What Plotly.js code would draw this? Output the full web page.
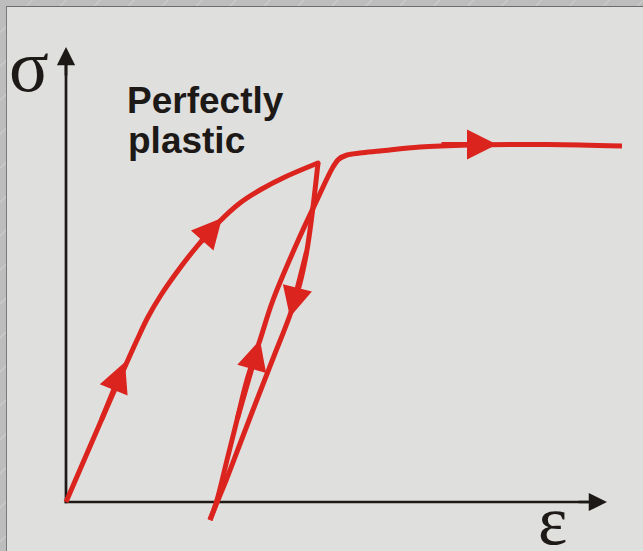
<!DOCTYPE html>
<html>
<head>
<meta charset="utf-8">
<script src="https://cdn.plot.ly/plotly-3.0.1.min.js"></script>
<style>
  html, body { margin: 0; padding: 0; }
  #frame {
    position: relative; width: 643px; height: 551px; overflow: hidden;
    background: repeating-linear-gradient(135deg, #bdbdbd 0px, #bdbdbd 22px, #cfcfcf 23px, #bdbdbd 24px);
  }
  #inner {
    position: absolute; left: 6px; top: 6px; right: 0; bottom: 0;
    background: #dfdfdd; border-top: 1.5px solid #6c6c6c; border-left: 1.5px solid #7a7a7a;
  }
  #chart { position: absolute; left: 0; top: 0; width: 643px; height: 551px; }
</style>
</head>
<body>
<div id="frame"><div id="inner"></div><div id="chart"></div></div>
<script>
// Loading branch (strain, stress) — arbitrary units
const loadStrain = [0, 0.70, 1.42, 1.64, 1.90, 2.22, 2.56, 3.06, 3.48, 3.88, 4.38, 5.04];
const loadStress = [0, 1.62, 3.24, 3.70, 4.14, 4.60, 5.04, 5.60, 5.98, 6.24, 6.50, 6.78];
// Unloading branch
const unloadStrain = [5.04, 4.94, 4.82, 4.68, 4.48, 4.16, 3.84, 3.54, 3.22, 3.04, 2.88];
const unloadStress = [6.78, 5.90, 5.04, 4.38, 3.74, 2.92, 2.10, 1.32, 0.48, 0.04, -0.36];
// Reloading branch into perfectly plastic plateau
const reloadStrain = [2.88, 3.02, 3.22, 3.42, 3.62, 3.88, 4.14, 4.62, 5.02, 5.34, 5.46, 5.62, 5.88, 6.28, 7.08, 8.08, 9.08, 10.28, 11.12];
const reloadStress = [-0.36, 0.04, 0.84, 1.64, 2.44, 3.24, 4.04, 5.18, 6.04, 6.70, 6.86, 6.94, 6.98, 7.02, 7.10, 7.14, 7.15, 7.14, 7.12];
// Direction arrows on the curve (tip and a point behind it)
const arrowTipX  = [1.18, 3.12, 4.48, 3.88, 8.62];
const arrowTipY  = [2.80, 5.68, 3.70, 3.24, 7.15];
const arrowTailX = [0.70, 2.68, 4.82, 3.42, 7.48];
const arrowTailY = [1.62, 5.18, 5.04, 1.64, 7.15];
// Axis extents
const axisXMax = 10.82;
const axisYMax = 9.10;
// Labels
const yLabel = 'σ';
const xLabel = 'ε';
const noteLines = ['Perfectly', 'plastic'];

const RED = '#dc241f';
const INK = '#1c1917';

const lineStyle = {color: RED, width: 5, shape: 'spline', smoothing: 1};
const traces = [
  {x: loadStrain, y: loadStress, mode: 'lines', line: lineStyle, hoverinfo: 'skip'},
  {x: unloadStrain, y: unloadStress, mode: 'lines', line: lineStyle, hoverinfo: 'skip'},
  {x: reloadStrain, y: reloadStress, mode: 'lines', line: lineStyle, hoverinfo: 'skip'},
  {x: [loadStrain[loadStrain.length-1]], y: [loadStress[loadStress.length-1]], mode: 'markers',
   marker: {color: RED, size: 5}, hoverinfo: 'skip'}
];

const annotations = [];
for (let i = 0; i < arrowTipX.length; i++) {
  annotations.push({
    x: arrowTipX[i], y: arrowTipY[i], xref: 'x', yref: 'y',
    ax: arrowTailX[i], ay: arrowTailY[i], axref: 'x', ayref: 'y',
    text: '', showarrow: true, arrowhead: 2, arrowsize: 1.2, arrowwidth: 5,
    arrowcolor: RED, standoff: 0, startstandoff: 0
  });
}
// axis arrowheads
annotations.push({x: 0, y: axisYMax, ax: 0, ay: axisYMax - 0.6, xref: 'x', yref: 'y', axref: 'x', ayref: 'y',
  text: '', showarrow: true, arrowhead: 2, arrowsize: 1.35, arrowwidth: 2.7, arrowcolor: INK, standoff: 0});
annotations.push({x: axisXMax, y: 0, ax: axisXMax - 0.6, ay: 0, xref: 'x', yref: 'y', axref: 'x', ayref: 'y',
  text: '', showarrow: true, arrowhead: 2, arrowsize: 1.35, arrowwidth: 2.7, arrowcolor: INK, standoff: 0});
// text
annotations.push({x: 1.17, y: 8.04, xref: 'x', yref: 'y', xanchor: 'left', yanchor: 'middle', showarrow: false,
  text: noteLines[0], font: {family: 'Liberation Sans, Arial, sans-serif', size: 37, color: INK, weight: 'bold'}});
annotations.push({x: 1.20, y: 7.23, xref: 'x', yref: 'y', xanchor: 'left', yanchor: 'middle', showarrow: false,
  text: noteLines[1], font: {family: 'Liberation Sans, Arial, sans-serif', size: 37, color: INK, weight: 'bold'}});
annotations.push({x: -0.74, y: 8.72, xref: 'x', yref: 'y', xanchor: 'center', yanchor: 'middle', showarrow: false,
  text: yLabel, font: {family: 'Liberation Serif, Times New Roman, serif', size: 74, color: INK}});
annotations.push({x: 9.73, y: -0.37, xref: 'x', yref: 'y', xanchor: 'center', yanchor: 'middle', showarrow: false,
  text: xLabel, font: {family: 'Liberation Serif, Times New Roman, serif', size: 70, color: INK}});

const shapes = [
  {type: 'line', xref: 'x', yref: 'y', x0: 0, y0: -0.027, x1: 0, y1: axisYMax - 0.3, layer: 'below',
   line: {color: INK, width: 2.7}},
  {type: 'line', xref: 'x', yref: 'y', x0: -0.027, y0: 0, x1: axisXMax - 0.3, y1: 0, layer: 'below',
   line: {color: INK, width: 2.7}}
];

const layout = {
  width: 643, height: 551,
  margin: {l: 0, r: 0, t: 0, b: 0},
  paper_bgcolor: 'rgba(0,0,0,0)', plot_bgcolor: 'rgba(0,0,0,0)',
  xaxis: {range: [-1.32, 11.54], visible: false, fixedrange: true},
  yaxis: {range: [-0.98, 10.04], visible: false, fixedrange: true},
  showlegend: false, hovermode: false,
  annotations: annotations, shapes: shapes
};

Plotly.newPlot('chart', traces, layout, {displayModeBar: false, staticPlot: true});
</script>
</body>
</html>
